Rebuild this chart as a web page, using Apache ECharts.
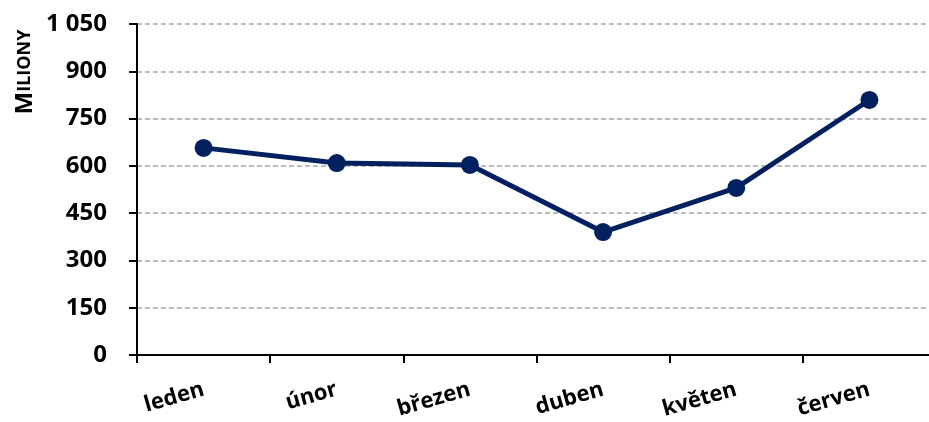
<!DOCTYPE html>
<html>
<head>
<meta charset="utf-8">
<script src="https://cdn.jsdelivr.net/npm/echarts@6/dist/echarts.min.js"></script>
<style>
  html, body { margin: 0; padding: 0; background: #fff; }
  #chart { width: 929px; height: 422px; }
</style>
</head>
<body>
<div id="chart"></div>
<script>
const months = ['leden', 'únor', 'březen', 'duben', 'květen', 'červen'];
const values = [657, 609, 603, 390, 530, 809];
const yTicks = { min: 0, max: 1050, interval: 150 };

const chart = echarts.init(document.getElementById('chart'));

const fmt = (v) => String(v).replace(/\B(?=(\d{3})+(?!\d))/g, ' ');

chart.setOption({
    animation: false,
    textStyle: { fontFamily: 'Open Sans', fontWeight: 'bold', color: '#000' },
    grid: { left: 137, top: 24, bottom: 67, right: -7, containLabel: false, outerBoundsMode: 'none' },
    graphic: [{
        type: 'text',
        x: 25,
        y: 72,
        rotation: Math.PI / 2,
        style: {
            text: '{a|M}{b|ILIONY}',
            align: 'center',
            verticalAlign: 'middle',
            rich: {
                a: { fontSize: 24, fontWeight: 'bold', fontFamily: 'Open Sans', fill: '#000' },
                b: { fontSize: 18, fontWeight: 'bold', fontFamily: 'Open Sans', fill: '#000' }
            }
        }
    }],
    xAxis: {
        type: 'category',
        data: months,
        boundaryGap: true,
        axisLine: { lineStyle: { color: '#000', width: 2 } },
        axisTick: { show: true, length: 8, lineStyle: { color: '#000', width: 2 } },
        axisLabel: {
            rotate: 16,
            margin: 34,
            fontSize: 22,
            fontWeight: 'bold',
            fontFamily: 'Open Sans',
            color: '#000'
        }
    },
    yAxis: {
        type: 'value',
        min: yTicks.min,
        max: yTicks.max,
        interval: yTicks.interval,
        axisLine: { show: true, lineStyle: { color: '#000', width: 2 } },
        axisTick: { show: true, length: 8, lineStyle: { color: '#000', width: 2 } },
        axisLabel: {
            margin: 30,
            fontSize: 24,
            fontWeight: 'bold',
            fontFamily: 'Open Sans',
            color: '#000',
            formatter: fmt
        },
        splitLine: { lineStyle: { color: '#a6a6a6', type: [5, 3], width: 1.5 } }
    },
    series: [{
        type: 'line',
        data: values,
        symbol: 'circle',
        symbolSize: 18,
        itemStyle: { color: '#002060' },
        lineStyle: { color: '#002060', width: 5 }
    }]
});
</script>
</body>
</html>
